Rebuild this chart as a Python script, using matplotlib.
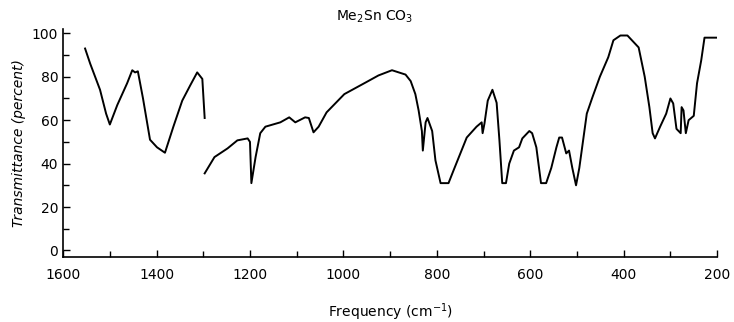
import matplotlib.pyplot as plt
import numpy as np

# band 1 (1550-1300 cm-1)
freq_a = [1553, 1542, 1521, 1508, 1500, 1484, 1463, 1452, 1446, 1440, 1429,
          1414, 1399, 1382, 1364, 1345, 1328, 1313, 1302, 1297]
trans_a = [93, 86, 74, 63, 58, 67, 77, 83, 82, 82.5, 70,
           51, 47.5, 45, 57, 69, 76, 82, 79, 61]

# band 2 (1300-200 cm-1)
freq_b = [1297, 1276, 1248, 1227, 1205, 1200, 1197, 1188, 1178, 1167, 1135,
          1116, 1103, 1082, 1074, 1064, 1053, 1036, 998, 952, 925, 896, 867,
          856, 846, 839, 832, 830, 824, 820, 810, 803, 792, 775, 764, 736,
          715, 704, 702, 698, 691, 681, 672, 666, 660, 652, 645, 635, 624,
          617, 602, 596, 587, 577, 566, 555, 544, 538, 532, 523, 517, 510,
          502, 495, 479, 467, 451, 433, 422, 407, 392, 368, 355, 345, 338,
          333, 322, 309, 300, 294, 287, 278, 276, 272, 267, 261, 250, 243,
          234, 227, 200]
trans_b = [35.5, 43, 47, 50.7, 51.6, 50, 31, 43, 54, 57, 59,
           61.3, 59, 61.3, 61, 54.4, 57, 63.6, 72, 77.4, 80.6, 83, 81,
           78, 72, 64.5, 55, 46, 59, 61, 55, 41.5, 31, 31, 37, 52,
           57, 59, 54, 58.5, 69, 74, 68, 50.7, 31, 31, 40, 46, 47.5,
           51.6, 55, 54, 47.5, 31, 31, 38, 47.5, 52, 52, 44.7, 46, 38,
           30, 38, 63, 70.5, 80, 89, 96.8, 99, 99, 93.5, 80, 66, 54,
           51.6, 57, 63, 70, 67.7, 56, 54, 66, 64.5, 54, 60, 62, 77,
           87.6, 98, 98]

xticks = [1600, 1400, 1200, 1000, 800, 600, 400, 200]
yticks = [0, 20, 40, 60, 80, 100]

fig = plt.figure(figsize=(7.34, 3.22), dpi=100)
ax = fig.add_axes([0.086, 0.202, 0.891, 0.708])

ax.plot(freq_a, trans_a, color='black', linewidth=1.4)
ax.plot(freq_b, trans_b, color='black', linewidth=1.4)

ax.set_xlim(1600, 200)
ax.set_ylim(-3, 102)
ax.set_xticks(xticks)
ax.set_xticks(np.arange(200, 1601, 100), minor=True)
ax.set_yticks(yticks)
ax.set_yticks(np.arange(0, 101, 10), minor=True)
ax.tick_params(direction='in', labelsize=10, length=5, width=1)
ax.tick_params(which='minor', direction='in', length=4, width=1)
ax.tick_params(axis='x', pad=8)

for s in ['top', 'right']:
    ax.spines[s].set_visible(False)
ax.spines['left'].set_linewidth(1.2)
ax.spines['bottom'].set_linewidth(1.2)

ax.set_title('Me$_2$Sn CO$_3$', fontsize=10, pad=6, x=0.477)
ax.set_xlabel('Frequency (cm$^{-1}$)', fontsize=10, labelpad=14)
ax.set_ylabel('Transmittance (percent)', fontsize=10, style='italic')

fig.savefig('out.png', dpi=100)
